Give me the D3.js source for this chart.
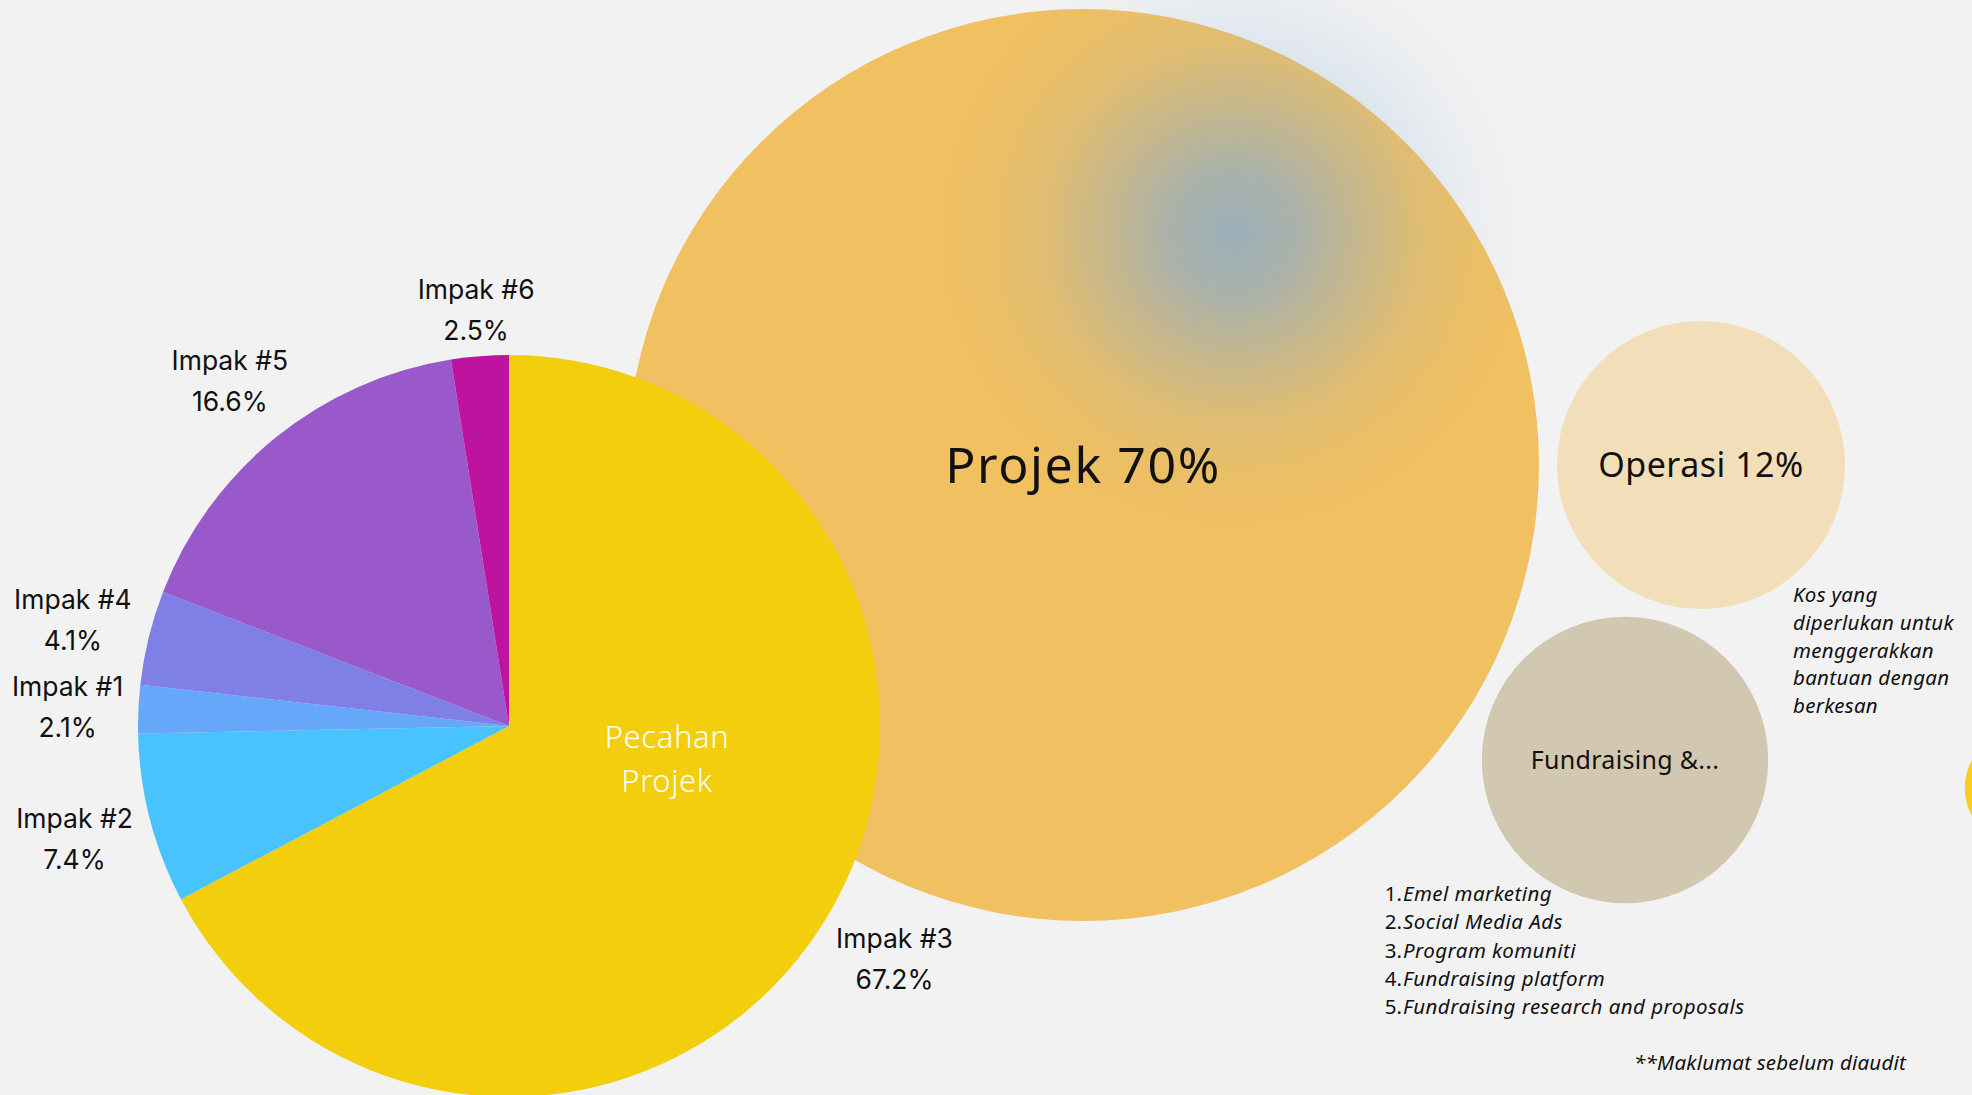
<!DOCTYPE html>
<html>
<head>
<meta charset="utf-8">
<script src="https://cdn.jsdelivr.net/npm/d3@7"></script>
<style>
  html, body { margin: 0; padding: 0; background: #f2f2f2; overflow: hidden; }
  svg { display: block; }
</style>
</head>
<body>
<svg id="chart" width="1972" height="1095"></svg>
<script>
// ---------------- DATA ----------------
const pieCategories = ["Impak #3", "Impak #2", "Impak #1", "Impak #4", "Impak #5", "Impak #6"];
const pieValues     = [67.2, 7.4, 2.1, 4.1, 16.6, 2.5];
const pieColors     = ["#f2ce0c", "#49c3fe", "#67a7fa", "#7f80e6", "#9a59ca", "#bd14a0"];
const pieTitle      = ["Pecahan", "Projek"];

const bubbleNames   = ["Projek", "Operasi", "Fundraising", "Lain"];
const bubbleValues  = [70, 12, 11.9, 3];
const bubbleLabels  = ["Projek 70%", "Operasi 12%", "Fundraising &...", ""];
const bubbleColors  = ["#f1c060", "#f2dfb9", "#d2c7b0", "#facd1e"];

const kosLines      = ["Kos yang", "diperlukan untuk", "menggerakkan", "bantuan dengan", "berkesan"];
const fundList      = ["Emel marketing", "Social Media Ads", "Program komuniti", "Fundraising platform", "Fundraising research and proposals"];
const footnote      = "**Maklumat sebelum diaudit";

// ---------------- LAYOUT ----------------
const W = 1972, H = 1095;
const bubbleCenters = [[1083, 465], [1701, 465], [1625, 760], [2023, 788]];
const pieCenter = [509, 726];
const pieRadius = 371;

const svg = d3.select("#chart");
svg.append("rect").attr("width", W).attr("height", H).attr("fill", "#f2f2f2");

const defs = svg.append("defs");
const grad = defs.append("radialGradient")
  .attr("id", "blob").attr("gradientUnits", "userSpaceOnUse")
  .attr("cx", 1233).attr("cy", 233).attr("r", 310);
[[0, 0.72], [0.2, 0.6], [0.4, 0.37], [0.6, 0.16], [0.8, 0.05], [1, 0]].forEach(([o, a]) => {
  grad.append("stop").attr("offset", o).attr("stop-color", "#7aa8db").attr("stop-opacity", a);
});

// bubble size scale
const rScale = d3.scalePow().exponent(0.6536).domain([0, 70]).range([0, 456]);

const bubbles = bubbleValues.map((v, i) => ({
  name: bubbleNames[i], value: v, label: bubbleLabels[i], color: bubbleColors[i],
  x: bubbleCenters[i][0], y: bubbleCenters[i][1], r: rScale(v)
}));

const bg = svg.append("g");
bg.selectAll("circle").data(bubbles).join("circle")
  .attr("cx", d => d.x).attr("cy", d => d.y).attr("r", d => d.r)
  .attr("fill", d => d.color);

// haze blob
svg.append("circle").attr("cx", 1233).attr("cy", 233).attr("r", 310).attr("fill", "url(#blob)");

const fontSizes = [50, 34, 25, 20];
const spacing = [1.6, 0.5, 0.3, 0];
svg.append("g").selectAll("text").data(bubbles).join("text")
  .attr("x", d => d.x)
  .attr("y", (d, i) => d.y + fontSizes[i] * 0.36)
  .attr("text-anchor", "middle")
  .attr("font-family", "'Noto Sans', sans-serif")
  .attr("font-size", (d, i) => fontSizes[i])
  .attr("letter-spacing", (d, i) => spacing[i])
  .attr("fill", "#111")
  .text(d => d.label);

// ---------------- PIE ----------------
const pie = d3.pie().sort(null).value(d => d.value).startAngle(0).endAngle(2 * Math.PI);
const arcs = pie(pieValues.map((v, i) => ({ name: pieCategories[i], value: v, color: pieColors[i] })));
const arc = d3.arc().innerRadius(0).outerRadius(pieRadius);

const pg = svg.append("g").attr("transform", `translate(${pieCenter[0]},${pieCenter[1]})`);
pg.selectAll("path").data(arcs).join("path")
  .attr("d", arc).attr("fill", d => d.data.color);

// centre title (white)
pg.append("text")
  .attr("x", 158).attr("y", 22)
  .attr("text-anchor", "middle")
  .attr("font-family", "'Noto Sans', sans-serif")
  .attr("font-size", 31).attr("font-weight", 300)
  .attr("letter-spacing", 0.6)
  .attr("fill", "#ffffff")
  .selectAll("tspan").data(pieTitle).join("tspan")
  .attr("x", 158).attr("dy", (d, i) => i === 0 ? 0 : 44)
  .text(d => d);

// outside labels
const fmt = d3.format(".1f");
const labels = pg.selectAll("g.lbl").data(arcs).join("g").attr("class", "lbl");
labels.each(function (d) {
  const g = d3.select(this);
  const t = g.append("text")
    .attr("text-anchor", "middle")
    .attr("font-family", "Inter, sans-serif")
    .attr("font-size", 26.5)
    .attr("fill", "#111");
  t.append("tspan").attr("x", 0).attr("y", -20).attr("dominant-baseline", "central").text(d.data.name);
  t.append("tspan").attr("x", 0).attr("y", 21).attr("dominant-baseline", "central").text(fmt(d.data.value) + "%");
  const bb = t.node().getBBox();
  const mid = (d.startAngle + d.endAngle) / 2;
  const s = Math.sin(mid), c = Math.cos(mid);
  const dist = pieRadius + 14 + Math.abs(s) * bb.width / 2 + Math.abs(c) * bb.height * 0.4;
  g.attr("transform", `translate(${s * dist},${-c * dist})`);
});

// ---------------- NOTES ----------------
const kos = svg.append("text")
  .attr("font-family", "'Noto Sans', sans-serif")
  .attr("font-size", 20.5).attr("font-style", "italic")
  .attr("letter-spacing", 0.3)
  .attr("fill", "#111");
kos.selectAll("tspan").data(kosLines).join("tspan")
  .attr("x", 1793).attr("y", (d, i) => 602 + i * 27.8)
  .text(d => d);

const list = svg.append("g")
  .attr("font-family", "'Noto Sans', sans-serif")
  .attr("font-size", 20.5).attr("fill", "#111");
const rows = list.selectAll("g").data(fundList).join("g")
  .attr("transform", (d, i) => `translate(1402,${901 + i * 28.3})`);
rows.append("text").attr("text-anchor", "end").text((d, i) => (i + 1) + ".");
rows.append("text").attr("x", 1).attr("font-style", "italic").attr("letter-spacing", 0.45).text(d => d);

svg.append("text")
  .attr("x", 1906).attr("y", 1070)
  .attr("text-anchor", "end")
  .attr("font-family", "'Noto Sans', sans-serif")
  .attr("font-size", 20.5).attr("font-style", "italic")
  .attr("letter-spacing", 0.2)
  .attr("fill", "#111")
  .text(footnote);
</script>
</body>
</html>
